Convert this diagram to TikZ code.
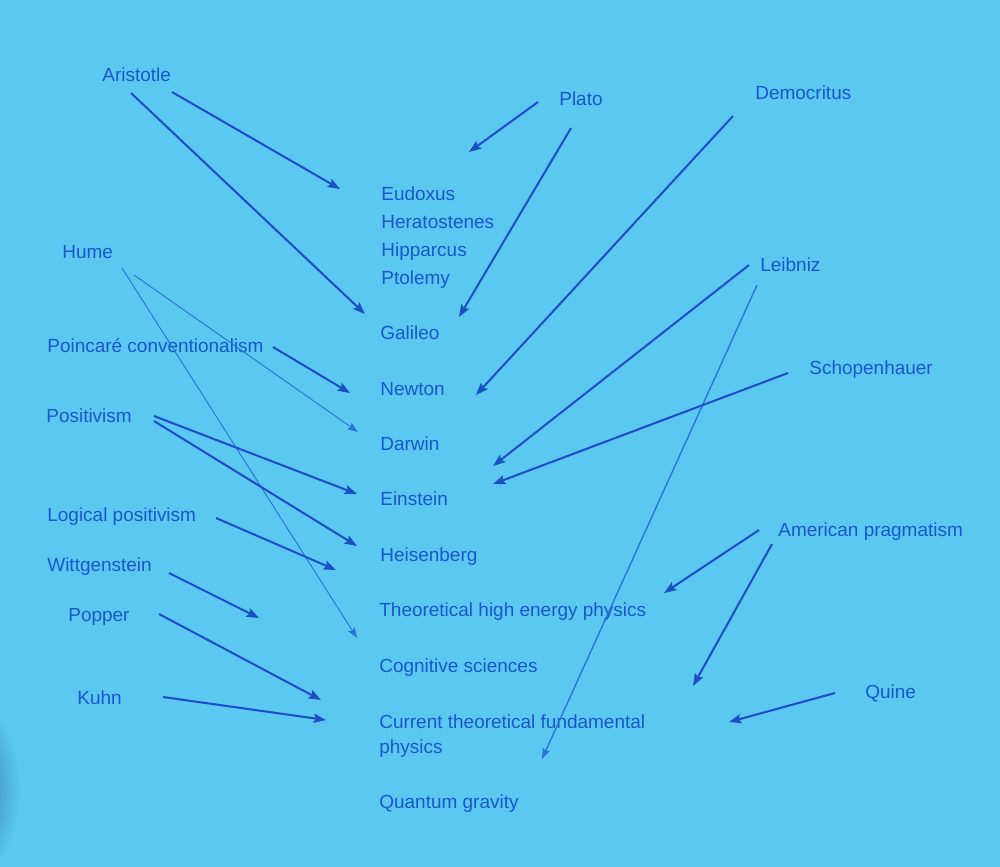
\documentclass[tikz,border=0pt]{standalone}
\usepackage{fontspec}
\setmainfont{Liberation Sans}
\usetikzlibrary{arrows.meta}
\definecolor{bgblue}{RGB}{90,200,240}
\definecolor{txtblue}{RGB}{24,88,205}
\definecolor{arrblue}{RGB}{26,80,196}
\definecolor{thinblue}{RGB}{40,118,212}
\definecolor{shadeblue}{RGB}{55,130,190}
\begin{document}
\begin{tikzpicture}[x=0.02cm,y=-0.02cm,
  lbl/.style={anchor=base west,inner sep=0pt,text=txtblue,font=\fontsize{10.8}{13}\selectfont},
  arr/.style={draw=arrblue,line width=1.15pt,-{Stealth[length=7pt,width=5.2pt,inset=1.2pt]}},
  thinarr/.style={draw=thinblue,line width=0.55pt,-{Stealth[length=6pt,width=4.4pt,inset=1pt]}}]
\useasboundingbox (0,0) rectangle (1000,866);
\fill[bgblue] (-5,-5) rectangle (1005,871);
\begin{scope}
\clip (0,0) rectangle (1000,866);
\shade[inner color=shadeblue,outer color=bgblue] (-22,790) ellipse (42 and 85);
\end{scope}
% central column
\node[lbl] (eudoxus) at (381,200) {Eudoxus};
\node[lbl] (heratostenes) at (381,228) {Heratostenes};
\node[lbl] (hipparcus) at (381,256) {Hipparcus};
\node[lbl] (ptolemy) at (381,284) {Ptolemy};
\node[lbl] (galileo) at (380,339) {Galileo};
\node[lbl] (newton) at (380,395) {Newton};
\node[lbl] (darwin) at (380,450) {Darwin};
\node[lbl] (einstein) at (380,505) {Einstein};
\node[lbl] (heisenberg) at (380,561) {Heisenberg};
\node[lbl] (thep) at (379,616) {Theoretical high energy physics};
\node[lbl] (cogsci) at (379,672) {Cognitive sciences};
\node[lbl] (ctfp) at (379,728) {Current theoretical fundamental};
\node[lbl] (ctfp2) at (379,753) {physics};
\node[lbl] (qg) at (379,808) {Quantum gravity};
% left column
\node[lbl] (aristotle) at (102,81) {Aristotle};
\node[lbl] (hume) at (62,258) {Hume};
\node[lbl] (poincare) at (47,352) {Poincaré conventionalism};
\node[lbl] (positivism) at (46,422) {Positivism};
\node[lbl] (logpos) at (47,521) {Logical positivism};
\node[lbl] (wittgenstein) at (47,571) {Wittgenstein};
\node[lbl] (popper) at (68,621) {Popper};
\node[lbl] (kuhn) at (77,704) {Kuhn};
% right column
\node[lbl] (plato) at (559,105) {Plato};
\node[lbl] (democritus) at (755,99) {Democritus};
\node[lbl] (leibniz) at (760,271) {Leibniz};
\node[lbl] (schopenhauer) at (809,374) {Schopenhauer};
\node[lbl] (amprag) at (778,536) {American pragmatism};
\node[lbl] (quine) at (865,698) {Quine};
% arrow start points (near their nodes)
\coordinate (aristotleA) at (172,92);
\coordinate (aristotleB) at (131,93);
\coordinate (platoA) at (538,102);
\coordinate (platoB) at (571,128);
\coordinate (democritusA) at (733,116);
\coordinate (humeA) at (122,268);
\coordinate (humeB) at (134,275);
\coordinate (poincareA) at (273,347);
\coordinate (positivismA) at (154,416);
\coordinate (positivismB) at (154,421);
\coordinate (logposA) at (216,518);
\coordinate (wittgensteinA) at (169,573);
\coordinate (popperA) at (159,614);
\coordinate (kuhnA) at (163,697);
\coordinate (leibnizA) at (749,265);
\coordinate (leibnizB) at (757,285);
\coordinate (schopenhauerA) at (788,373);
\coordinate (ampragA) at (759,530);
\coordinate (ampragB) at (772,544);
\coordinate (quineA) at (835,693);
% arrow end points (free ends)
\coordinate (toEudoxus) at (340,189);
\coordinate (toGalileoL) at (365,314);
\coordinate (platoFree) at (469,152);
\coordinate (toGalileoR) at (459,317);
\coordinate (toNewtonR) at (476,395);
\coordinate (toCogsci) at (357,638);
\coordinate (toDarwin) at (358,432);
\coordinate (toNewtonL) at (350,393);
\coordinate (toEinsteinL) at (357,494);
\coordinate (toHeisenbergL) at (357,546);
\coordinate (logposEnd) at (336,570);
\coordinate (wittEnd) at (259,618);
\coordinate (toCtfpA) at (321,700);
\coordinate (toCtfpB) at (326,720);
\coordinate (toEinsteinR1) at (493,466);
\coordinate (toQGline) at (542,759);
\coordinate (toEinsteinR2) at (493,484);
\coordinate (ampragEnd1) at (664,593);
\coordinate (ampragEnd2) at (693,686);
\coordinate (quineEnd) at (729,722);
% connectors
\draw[arr] (aristotleA) -- (toEudoxus);
\draw[arr] (aristotleB) -- (toGalileoL);
\draw[arr] (platoA) -- (platoFree);
\draw[arr] (platoB) -- (toGalileoR);
\draw[arr] (democritusA) -- (toNewtonR);
\draw[thinarr] (humeA) -- (toCogsci);
\draw[thinarr] (humeB) -- (toDarwin);
\draw[arr] (poincareA) -- (toNewtonL);
\draw[arr] (positivismA) -- (toEinsteinL);
\draw[arr] (positivismB) -- (toHeisenbergL);
\draw[arr] (logposA) -- (logposEnd);
\draw[arr] (wittgensteinA) -- (wittEnd);
\draw[arr] (popperA) -- (toCtfpA);
\draw[arr] (kuhnA) -- (toCtfpB);
\draw[arr] (leibnizA) -- (toEinsteinR1);
\draw[thinarr,line width=0.8pt] (leibnizB) -- (toQGline);
\draw[arr] (schopenhauerA) -- (toEinsteinR2);
\draw[arr] (ampragA) -- (ampragEnd1);
\draw[arr] (ampragB) -- (ampragEnd2);
\draw[arr] (quineA) -- (quineEnd);
\end{tikzpicture}
\end{document}
